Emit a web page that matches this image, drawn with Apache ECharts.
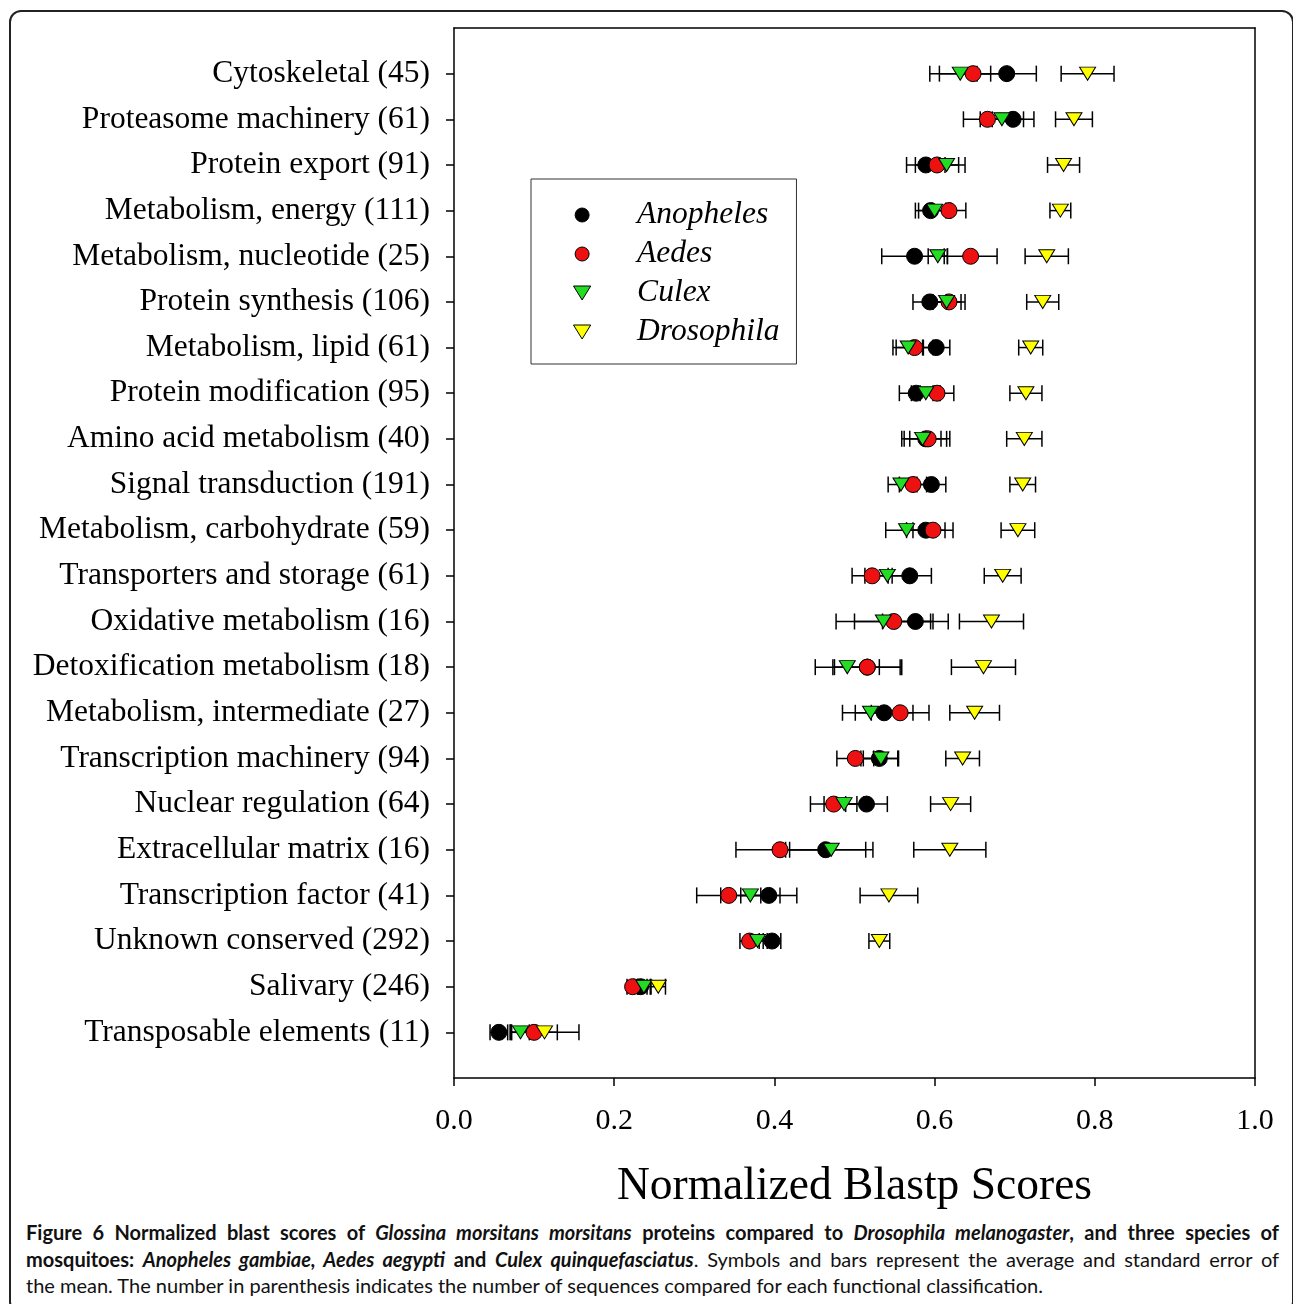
<!DOCTYPE html>
<html>
<head>
<meta charset="utf-8">
<script src="https://cdn.jsdelivr.net/npm/echarts@6/dist/echarts.min.js"></script>
<style>
body { margin: 0; background: #fff; }
#frame { position: absolute; left: 9px; top: 10px; width: 1281px; height: 1300px; border: 2px solid #222; border-radius: 12px; }
#main { position: absolute; left: 0; top: 0; width: 1293px; height: 1215px; }
#caption { position: absolute; left: 26px; top: 1219px; width: 1253px; font-family: Lato, "Open Sans", sans-serif; font-size: 20px; line-height: 26.5px; color: #111; }
#caption div { white-space: nowrap; }
#caption .j { text-align: justify; text-align-last: justify; }
</style>
</head>
<body>
<div id="frame"></div>
<div id="main"></div>
<div id="caption">
<div class="j"><b>Figure 6 Normalized blast scores of <i>Glossina morsitans morsitans</i> proteins compared to <i>Drosophila melanogaster</i>, and three species of</b></div>
<div class="j"><b>mosquitoes: <i>Anopheles gambiae, Aedes aegypti</i> and <i>Culex quinquefasciatus</i></b>. Symbols and bars represent the average and standard error of</div>
<div>the mean. The number in parenthesis indicates the number of sequences compared for each functional classification.</div>
</div>
<script>
var categories = [
	'Cytoskeletal (45)',
	'Proteasome machinery (61)',
	'Protein export (91)',
	'Metabolism, energy (111)',
	'Metabolism, nucleotide (25)',
	'Protein synthesis (106)',
	'Metabolism, lipid (61)',
	'Protein modification (95)',
	'Amino acid metabolism (40)',
	'Signal transduction (191)',
	'Metabolism, carbohydrate (59)',
	'Transporters and storage (61)',
	'Oxidative metabolism (16)',
	'Detoxification metabolism (18)',
	'Metabolism, intermediate (27)',
	'Transcription machinery (94)',
	'Nuclear regulation (64)',
	'Extracellular matrix (16)',
	'Transcription factor (41)',
	'Unknown conserved (292)',
	'Salivary (246)',
	'Transposable elements (11)'
];
// mean and standard error for each species, same order as categories
var anophelesMean = [0.690, 0.698, 0.589, 0.595, 0.575, 0.594, 0.602, 0.577, 0.589, 0.596, 0.589, 0.569, 0.576, 0.516, 0.537, 0.531, 0.515, 0.464, 0.393, 0.397, 0.233, 0.056];
var anophelesSE = [0.037, 0.026, 0.024, 0.019, 0.041, 0.021, 0.017, 0.021, 0.030, 0.018, 0.024, 0.027, 0.041, 0.043, 0.036, 0.023, 0.026, 0.050, 0.035, 0.011, 0.008, 0.011];
var aedesMean = [0.648, 0.666, 0.603, 0.618, 0.645, 0.618, 0.575, 0.603, 0.592, 0.573, 0.598, 0.522, 0.549, 0.516, 0.557, 0.501, 0.474, 0.407, 0.343, 0.369, 0.223, 0.100];
var aedesSE = [0.042, 0.030, 0.027, 0.021, 0.033, 0.020, 0.023, 0.021, 0.023, 0.017, 0.025, 0.025, 0.049, 0.041, 0.036, 0.023, 0.029, 0.055, 0.040, 0.012, 0.007, 0.029];
var culexMean = [0.632, 0.684, 0.615, 0.600, 0.604, 0.615, 0.567, 0.589, 0.585, 0.558, 0.565, 0.541, 0.536, 0.491, 0.520, 0.533, 0.487, 0.471, 0.370, 0.379, 0.237, 0.083];
var culexSE = [0.038, 0.027, 0.023, 0.020, 0.012, 0.018, 0.019, 0.018, 0.023, 0.016, 0.026, 0.028, 0.059, 0.040, 0.035, 0.022, 0.025, 0.052, 0.037, 0.012, 0.008, 0.011];
var drosophilaMean = [0.791, 0.774, 0.761, 0.757, 0.740, 0.735, 0.720, 0.714, 0.712, 0.710, 0.704, 0.685, 0.671, 0.661, 0.650, 0.635, 0.620, 0.619, 0.543, 0.531, 0.255, 0.113];
var drosophilaSE = [0.033, 0.023, 0.020, 0.013, 0.027, 0.020, 0.015, 0.020, 0.022, 0.016, 0.021, 0.023, 0.040, 0.040, 0.031, 0.021, 0.025, 0.045, 0.036, 0.013, 0.009, 0.043];

var serif = '"Liberation Serif", "Times New Roman", serif';
var downTriangle = 'path://M0,0L16,0L8,13Z';

var species = [
	{name: 'Anopheles', mean: anophelesMean, se: anophelesSE, color: '#000000', symbol: 'circle', size: 16},
	{name: 'Aedes', mean: aedesMean, se: aedesSE, color: '#ee1111', symbol: 'circle', size: 16},
	{name: 'Culex', mean: culexMean, se: culexSE, color: '#22dd22', symbol: downTriangle, size: [16, 13]},
	{name: 'Drosophila', mean: drosophilaMean, se: drosophilaSE, color: '#ffff00', symbol: downTriangle, size: [16, 13]}
];

var tickRows = [];
for (var i = 0; i < categories.length; i++) tickRows.push(i + 1);

function errorBarItem(params, api) {
	var y = api.value(2);
	var lo = api.coord([api.value(0), y]);
	var hi = api.coord([api.value(1), y]);
	var h = 8;
	var st = {stroke: '#000', lineWidth: 1.5};
	return {
		type: 'group',
		children: [
			{type: 'line', shape: {x1: lo[0], y1: lo[1], x2: hi[0], y2: hi[1]}, style: st},
			{type: 'line', shape: {x1: lo[0], y1: lo[1] - h, x2: lo[0], y2: lo[1] + h}, style: st},
			{type: 'line', shape: {x1: hi[0], y1: hi[1] - h, x2: hi[0], y2: hi[1] + h}, style: st}
		]
	};
}

var series = [];
var legendData = [];
species.forEach(function (s) {
	var bars = [], pts = [];
	for (var i = 0; i < categories.length; i++) {
		bars.push([s.mean[i] - s.se[i], s.mean[i] + s.se[i], i + 1]);
		pts.push([s.mean[i], i + 1]);
	}
	series.push({
		name: s.name + ' SE',
		type: 'custom',
		renderItem: errorBarItem,
		encode: {x: [0, 1], y: 2},
		data: bars,
		silent: true
	});
	series.push({
		name: s.name,
		type: 'scatter',
		symbol: s.symbol,
		symbolSize: s.size,
		itemStyle: {color: s.color, borderColor: '#000', borderWidth: 1, opacity: 1},
		data: pts
	});
	legendData.push({
		name: s.name,
		icon: s.symbol,
		itemStyle: {color: s.color, borderColor: '#000', borderWidth: 1}
	});
});

var axisLineStyle = {color: '#000', width: 1.5};
// plain axes on top and right just close the frame
var frameAxis = {
	axisLine: {show: true, onZero: false, lineStyle: axisLineStyle},
	axisTick: {show: false},
	axisLabel: {show: false},
	splitLine: {show: false}
};

var myChart = echarts.init(document.getElementById('main'));
option = {
	animation: false,
	grid: {
		left: 454,
		right: 38,
		top: 28,
		bottom: 137
	},
	legend: {
		orient: 'vertical',
		left: 531,
		top: 179,
		padding: [20, 17, 16, 42],
		itemWidth: 100,
		itemHeight: 14,
		itemGap: 7,
		borderColor: '#333',
		borderWidth: 1,
		backgroundColor: '#fff',
		data: legendData,
		textStyle: {
			fontFamily: serif,
			fontStyle: 'italic',
			fontSize: 31.5,
			lineHeight: 30,
			color: '#000'
		}
	},
	xAxis: [{
		type: 'value',
		position: 'bottom',
		min: 0,
		max: 1,
		interval: 0.2,
		name: 'Normalized Blastp Scores',
		nameLocation: 'middle',
		nameGap: 86,
		nameTextStyle: {fontFamily: serif, fontSize: 45.5, color: '#000'},
		axisLine: {onZero: false, lineStyle: axisLineStyle},
		axisTick: {length: 8, lineStyle: axisLineStyle},
		axisLabel: {
			margin: 28,
			fontFamily: serif,
			fontSize: 30,
			color: '#000',
			formatter: function (v) { return v.toFixed(1); }
		},
		splitLine: {show: false}
	}, Object.assign({type: 'value', position: 'top', min: 0, max: 1}, frameAxis)],
	yAxis: [{
		type: 'value',
		position: 'left',
		inverse: true,
		min: 0,
		max: 23,
		interval: 1,
		axisLine: {show: true, onZero: false, lineStyle: axisLineStyle},
		axisTick: {show: true, length: 8, customValues: tickRows, lineStyle: axisLineStyle},
		axisLabel: {
			margin: 24,
			fontFamily: serif,
			fontSize: 31.5,
			color: '#000',
			padding: [4, 0, 0, 0],
			customValues: tickRows,
			formatter: function (v) { return categories[v - 1] || ''; }
		},
		splitLine: {show: false}
	}, Object.assign({type: 'value', position: 'right', inverse: true, min: 0, max: 23}, frameAxis)],
	series: series
};
myChart.setOption(option);
window.onresize = myChart.resize;
</script>
</body>
</html>
